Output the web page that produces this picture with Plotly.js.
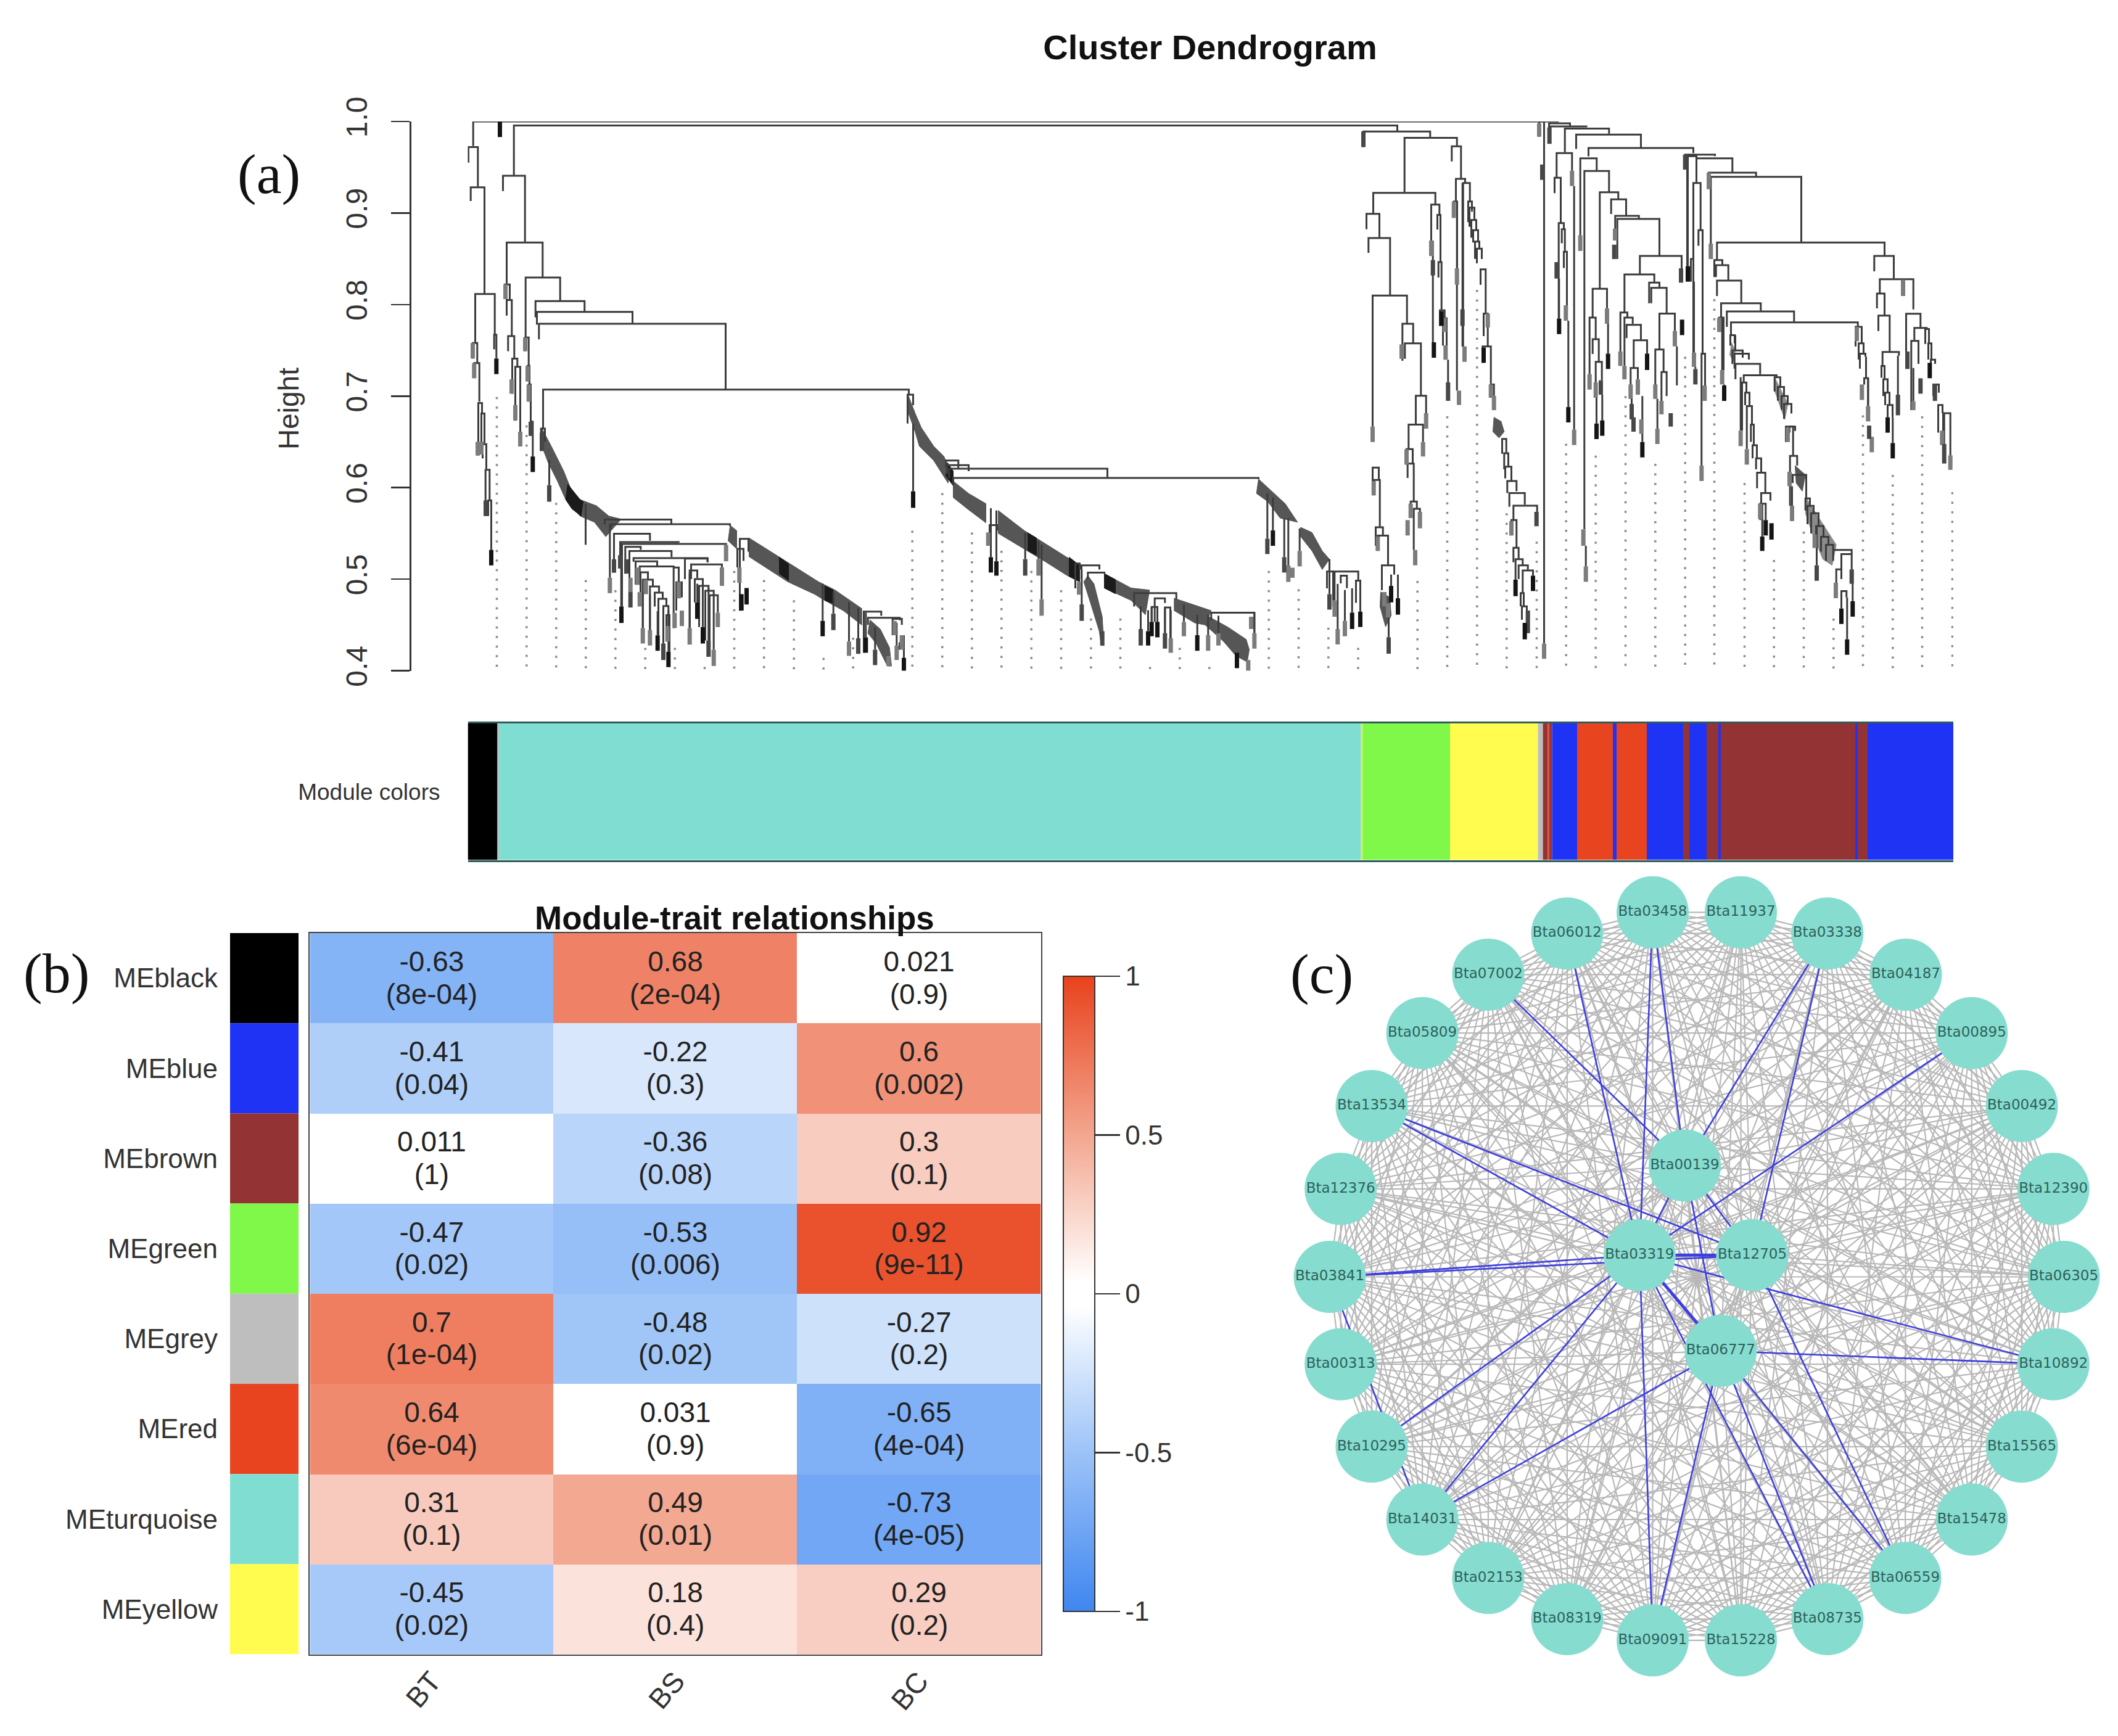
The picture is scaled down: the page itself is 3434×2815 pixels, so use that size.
<!DOCTYPE html>
<html>
<head>
<meta charset="utf-8">
<script src="https://cdn.plot.ly/plotly-3.0.1.min.js"></script>
<style>html,body{margin:0;padding:0;background:#fff}#chart{width:3434px;height:2815px}</style>
</head>
<body>
<div id="chart"></div>
<script>
// ---------- Panel (a): dendrogram, x = gene order, heights ----------
// merge rows: [left x, right x, merge height, left child height, right child height]
const treeBlack = [
 [8.7,1769,1.0,.9733,1.0],[1,16.3,.972,.955,.929],[4.7,27,.928,.913,.811],[12,43.7,.8115,.758,.767],
 [42.7,46.3,.767,.751,.741],[8,15.3,.758,.741,.736],[10.3,18.7,.736,.7195,.694],[17,23,.6925,.635,.681],
 [22,27,.681,.64,.6486],[24,30,.6475,.632,.6206],[28.7,35.3,.6194,.569,.587],[33,38,.586,.569,.532]
];
const treeTurquoise = [
 [74.7,1507,.9957,.9407,.9894],[57,92.7,.9407,.924,.8677],[63,121.3,.8677,.823,.8295],[93.7,149.7,.8295,.764,.804],
 [109.7,189.3,.8037,.786,.7925],[112,267,.792,.778,.779],[115.3,418,.779,.762,.7071],[122,715,.7071,.6644,.7015],
 [60.3,68,.822,.806,.805],[63,71.3,.805,.788,.7655],[65.3,75.3,.7655,.749,.741],[72,80.3,.741,.7026,.732],
 [77,85,.732,.673,.645],[93,98.7,.764,.749,.733],[97,100,.733,.716,.7127],[98.7,102,.7127,.694,.672],
 [102,105.3,.672,.6565,.634],[118.7,125,.6644,.64,.65],
 [222,330,.565,.56,.56],[232,425,.56,.555,.558],[237,295.3,.5495,.5217,.542],[247,342,.5405,.512,.54],
 [250,418.7,.5385,.47,.5375],[255.3,280.3,.5352,.506,.532],[262,330.3,.5307,.469,.524],[268.7,388.7,.523,.519,.5184],
 [272,307,.5195,.494,.514],[278.7,333.7,.5138,.508,.5127],[333.7,342,.5127,.4465,.4965],[338,347,.4965,.4656,.48],
 [280,292,.5075,.4858,.4993],[283.7,300,.4993,.4465,.4915],[295.3,310,.492,.4443,.485],[303,316,.4852,.47,.4785],
 [309,322,.4785,.4386,.4705],[317,325.3,.4705,.4297,.4606],[322,327,.4606,.4319,.4207],
 [352,388.7,.5225,.5,.5184],[362,412,.5161,.5,.5128],[359.7,372,.5095,.4465,.501],[368,381,.5,.4746,.4925],
 [375,390.3,.4926,.4476,.4872],[385,398.7,.4872,.433,.4824],[392,405.3,.4824,.4229,.4633],
 [441,455,.5441,.4656,.5300],[437,447,.5330,.5128,.5200],
 [642,670.3,.4645,.4196,.46],[648.7,700.3,.4577,.45,.455],[688.7,703.7,.4566,.4387,.45],[700,707,.43,.4229,.414],
 [713,722,.7015,.67,.69],[775.3,795.3,.6296,.622,.62],[777,812,.6246,.615,.618],[780.3,1037,.6206,.61,.6105],
 [787,1282,.6105,.6027,.6094],[846,858,.5590,.5364,.5530],[985,992,.5170,.49,.5105],[995,1024,.515,.50,.5105],
 [1005.3,1032,.5072,.5,.506],[1080.3,1148.7,.4847,.47,.478],[1113.7,1130.3,.479,.4533,.474],[1108.7,1118,.4695,.4533,.4533],
 [1130.3,1139,.469,.4409,.4353],[1205.3,1275.3,.4634,.455,.4409],[1393,1403,.5083,.49,.5],[1403,1443.7,.5083,.47,.4984],
 [1415.3,1425.3,.5038,.4954,.4902],[1440,1447,.4984,.4741,.4645]
];
const treeGreen = [
 [1452,1560.3,.989,.972,.9822],[1518.7,1603.7,.9822,.9227,.9728],[1468,1568.7,.922,.8991,.9092],[1457,1478,.8991,.8823,.8733],
 [1460.3,1495.3,.8726,.8565,.8098],[1467,1522.7,.8098,.6667,.779],[1467,1477,.6218,.605,.6083],[1468.7,1478.7,.6083,.5915,.5566],
 [1472,1483.7,.5566,.5365,.5476],[1475.3,1492,.5476,.5308,.5151],[1482,1502,.5151,.488,.505],
 [1515.3,1532.7,.779,.7386,.7581],[1519.3,1545.3,.7576,.7408,.7004],[1537,1553.7,.7004,.6689,.6813],
 [1525.3,1548.7,.6689,.642,.6498],[1522,1532,.642,.6251,.6263],[1523.7,1533.7,.6263,.6105,.5847],
 [1528.7,1538.7,.5847,.5667,.5768],[1533.7,1543.7,.5768,.5319,.5735],
 [1562,1575.3,.9092,.8699,.898],[1572,1577,.898,.882,.8463],[1573.7,1578.7,.8463,.8295,.7936],[1576,1583.7,.7936,.7767,.785],
 [1581,1587,.785,.755,.7554]
];
const treeYellow = [
 [1595.3,1610.3,.9728,.9564,.9373],[1602,1617,.9373,.9126,.9328],[1598.7,1604,.9126,.8947,.84],[1613.7,1624.7,.9328,.754,.9126],
 [1622,1628,.9126,.89,.9014],[1624,1632,.9059,.885,.8924],[1627,1635,.8924,.873,.8812],[1630,1638,.8812,.8677,.8688],
 [1633,1640,.8688,.85,.861],[1636,1644,.861,.845,.8497],[1642,1650.3,.8385,.8217,.7902],[1647,1653.7,.7902,.7655,.7655],
 [1645.3,1658.7,.7543,.7363,.7138],[1658.7,1663.7,.7127,.6982,.7003],[1677,1683.7,.6532,.637,.6375],[1680.3,1687,.6375,.62,.6229],
 [1682,1692,.6229,.61,.6072],[1685.3,1700.3,.6072,.5941,.596],[1688.7,1713.7,.5941,.579,.5813],[1695.3,1733.7,.5802,.5645,.5735],
 [1692,1700.3,.5645,.5477,.5342],[1695.3,1703.7,.5342,.5185,.5218],[1698.7,1710.3,.5218,.4994,.515],[1703.7,1718.7,.515,.5,.5095],
 [1710.3,1727,.5095,.4848,.5038],[1707,1712,.4848,.4702,.47],[1709,1717,.4702,.4556,.4657]
];
const treeRight = [
 [1737,1745,1.0,.9834,.4297],[1753,1787,.998,.98,.995],[1755,1815,.9946,.985,.9946],
 [1778.7,1850.3,.9923,.9665,.9867],[1797,1902,.9856,.97,.9715],[1817,1987,.971,.962,.9654],[1803.7,1830.3,.9598,.8587,.9463],
 [1810.3,1850.3,.946,.5544,.9227],[1835.3,1865.3,.9227,.8172,.9149],[1853.7,1878,.9149,.899,.8969],[1860.3,1898.7,.8969,.87,.8935],
 [1863.7,1932,.8935,.8497,.8531],[1900.3,1968,.8531,.8329,.8396],[1875.3,1923.7,.8329,.7913,.8239],[1915.3,1932,.8239,.8014,.8178],
 [1918.7,1943.7,.8183,.8014,.7902],[1932,1957,.7902,.7509,.7711],[1925.3,1938.7,.7509,.697,.7262],[1935.3,1943.7,.7262,.6903,.7],
 [1868.7,1880,.7913,.733,.786],[1875.3,1888.7,.7857,.7329,.779],[1878.7,1902,.7779,.7633,.761],[1890.3,1912,.761,.7307,.7464],
 [1885.3,1897,.7307,.697,.7183],[1823.7,1847,.8172,.7857,.7958],[1818.7,1828.7,.7857,.724,.7613],[1823.7,1833.7,.7621,.746,.7374],
 [1828.7,1838.7,.7374,.715,.7172],[1765.3,1790.3,.9654,.9385,.9463],[1762,1772,.9385,.9216,.889],[1768.7,1777,.889,.7846,.8823],
 [1773.7,1778.7,.8823,.867,.8576],[1777,1782,.8576,.84,.7992],
 [1973.7,2022,.9638,.9474,.9621],[1977,1992,.9621,.8419,.9598],[1992,2050.3,.9598,.9328,.9441],[1987,1998.7,.9328,.7475,.8812],
 [1983,1988,.8497,.825,.8497],[1995.3,2002,.8812,.8643,.7464],[2000.3,2006,.7464,.624,.7116],[2012,2088.7,.9441,.9261,.9396],
 [2015.3,2162,.9396,.8666,.8677],[2025.3,2297,.8677,.8486,.8531],[2021,2034,.8486,.83,.843],[2023.7,2043.7,.843,.83,.8261],
 [2025.3,2064.7,.8261,.8093,.8014],[2032,2096.3,.8014,.7857,.7925],[2029,2036,.7857,.77,.7284],[2041.3,2150.3,.7925,.7756,.7812],
 [2048,2253.7,.7805,.7666,.7756],[2047,2054,.7666,.755,.7576],[2050.3,2067,.7498,.735,.742],[2053.7,2077,.7464,.73,.74],
 [2055.3,2095.3,.7352,.7183,.7239],[2068.7,2122,.7228,.7149,.7206],[2066,2073,.7149,.6622,.7037],[2071,2078,.7037,.69,.689],
 [2073.7,2082,.689,.642,.6689],[2080.3,2085,.6689,.65,.6463],[2083,2090,.6463,.632,.6319],[2088.7,2097,.6319,.62,.6162],
 [2090.3,2103.7,.6162,.5993,.5948],[2097,2112,.5941,.5825,.5858],[2095.3,2104.3,.5825,.5645,.5645],
 [2137,2148.7,.6667,.6498,.6352],[2143.7,2155.3,.6346,.5802,.624],[2213.7,2243.7,.5319,.52,.5274],[2218.7,2227,.5106,.496,.5],
 [2227,2235.3,.487,.4679,.48],[2227,2243.7,.5274,.5106,.5106],
 [2250,2260,.7756,.7543,.7576],[2255,2263,.7576,.74,.7464],[2257,2266,.7464,.73,.743],[2264,2270.3,.7195,.7127,.6891],
 [2280.3,2312,.8531,.8363,.8284],[2289.3,2343.7,.8277,.812,.7947],[2284.7,2297,.812,.7958,.788],[2287,2305.3,.788,.7711,.7482],
 [2293.7,2320.3,.7482,.7329,.7442],[2292,2297,.7329,.72,.7183],[2295,2302,.7183,.7,.7037],[2298,2305,.7037,.69,.6903],
 [2302,2310,.6903,.6768,.6768],[2332,2355.3,.79,.7487,.7745],[2345.3,2365.3,.7745,.761,.7733],[2340.3,2352,.7603,.6847,.7352],
 [2363,2369,.7733,.757,.7576],[2368,2373,.7576,.74,.7397],[2372,2379,.7397,.72,.7352],[2376,2385,.7127,.7,.7037],
 [2384,2391,.6903,.66,.6813],[2392,2403.7,.6813,.66,.6352],
 [2143,2152,.6667,.66,.662],[2148,2170,.6139,.605,.5881],
 [2118.7,2128,.7206,.705,.7100],[2124,2134,.7100,.695,.7000],[2130,2140,.7000,.685,.6914],[2134,2146,.6914,.675,.6810],
 [2168.7,2176,.5881,.575,.58],[2172,2182,.58,.56,.572],[2178,2190,.572,.55,.558],[2186,2198,.558,.54,.5462],[2194,2206,.5462,.53,.5375],[2202,2213.7,.5375,.52,.5319]
];
// single vertical lines: [x, top, bottom]
const treeStems = [
 [132,.63,.6026],[191,.5824,.5375],[230.3,.56,.5015],[248.7,.5262,.4701],[283.7,.4858,.4465],[295.3,.483,.4443],[307.7,.465,.4386],
 [317,.463,.4297],[325.3,.466,.4207],[359.7,.5067,.4465],[381,.495,.4476],[398.7,.4837,.4229],[372,.495,.4746],[390.3,.49,.433],
 [575.3,.495,.4544],[592.7,.486,.4622],[618,.4746,.4319],[633,.468,.4353],[645.3,.4635,.4364],[660.3,.4475,.4229],[695.3,.4522,.4274],
 [707,.4387,.414],[722,.67,.5959],[848,.5775,.524],[857,.575,.5195],[903.7,.551,.5218],[925.3,.542,.5218],[930.3,.5375,.478],
 [995.3,.5105,.4724],[1182.7,.461,.4387],[1200.3,.461,.4387],[1161,.4723,.4533],[1217,.46,.4409],[1275.3,.4634,.4409],[1091,.47,.4454],
 [1103,.466,.4432],[1108.7,.4695,.4533],[1118,.469,.4533],[1130.3,.469,.4409],[1139.7,.466,.4353],[1296.3,.5937,.5442],[1305.3,.5892,.5532],
 [1323.7,.5667,.524],[1330.3,.5667,.515],[1348.7,.5554,.5308],[1397,.5218,.4836],[1405.3,.5083,.4768],[1410.3,.4948,.4454],[1422,.4881,.4544],
 [1433.7,.49,.4634],[1493,.4702,.4365],[1497,.505,.4926],[1508,.505,.4791],[1603.7,.8947,.7060],[1564.7,.8699,.7588],[1566.3,.7588,.7419],
 [1589.3,.7397,.715],[1612.7,.9328,.754],[1769.3,.8284,.7846],[1784.3,.7823,.688],[1793.7,.9295,.6633],[1812.7,.5364,.514],[1848.7,.779,.7464],
 [1960.3,.7543,.7116],[1928.7,.697,.6644],[1887,.7015,.6745],[1890,.6745,.6611],[1904.3,.7,.6498],[1830,.6981,.67],[1839.3,.7015,.6734],
 [1978,.9621,.8419],[1988,.825,.7475],[1990.3,.7318,.7295],[2033.7,.7857,.7284],[2037,.7127,.7116],[2063.7,.7206,.6622],[2267,.743,.7195],
 [2270.3,.7195,.6891],[2310.3,.6768,.6487],[2318.7,.7442,.7015],[2343.7,.7307,.6943],[2147,.6015,.5802],[2098.7,.5825,.5465],[2187,.5578,.5151],
 [2236.3,.48,.4342],[2245.3,.5106,.4758],[2403.7,.6352,.6195],[2393.7,.6813,.6476],[1653.7,.7655,.7543],[1658.7,.7138,.7127],[2055,.7667,.7498]
];
// leaf stubs [x, top, bottom] grouped by how dark they print
const stubsBlack = [
 [52,1.0,.983],[46.3,.741,.724],[38,.532,.515],[105.3,.634,.617],[249,.4701,.4521],[307.7,.4386,.4218],[325.3,.4207,.4038],[372,.4746,.4566],
 [381,.4476,.4297],[443.7,.4836,.4656],[452,.4903,.4723],[575.3,.4544,.4375],[645.3,.4364,.4196],[707,.414,.3971],[722,.5959,.5779],[848,.524,.5072],
 [857,.5195,.5038],[1103,.4432,.4274],[1108.7,.4533,.4375],[1118,.4533,.4364],[1182.7,.4387,.4218],[1247,.4196,.4027],[1305.3,.5532,.5364],[1433.7,.4634,.4454],
 [1447,.4645,.4477],[1497,.4926,.4746],[1508,.4791,.4612],[1566.3,.7588,.7419],[1578.7,.7925,.7767],[1647,.7531,.7363],[1698.7,.4994,.4814],[1713.7,.4522,.4342],
 [1727,.5038,.487],[1769.3,.7846,.7677],[1784.3,.688,.6712],[1830,.67,.653],[1839.3,.6734,.6566],[1848.7,.7464,.7296],[1904.3,.6498,.633],[1912,.7464,.7285],
 [1968.7,.7835,.7666],[1978,.8419,.825],[2037,.7116,.6947],[2104.3,.5645,.5477],[2098.7,.5465,.5308],[2113.7,.5611,.5432],[2227,.4679,.451],[2236.3,.4342,.4174],
 [2245.3,.4758,.459],[2302,.6768,.66],[2310.3,.6487,.6319],[2370.3,.7363,.7195]
];
const stubsDark = [
 [29,.586,.569],[102,.672,.6565],[120,.66,.64],[132,.6026,.5846],[237,.5217,.507],[247,.5262,.5116],[257,.5217,.506],[263.7,.486,.469],[317,.4297,.4117],
 [390.3,.433,.4151],[592.7,.4622,.4443],[633,.4353,.4184],[660.3,.4229,.406],[903.7,.5218,.5038],[995.3,.4724,.4544],[1091,.4454,.4274],[1130.3,.4409,.4241],
 [1296.3,.5442,.5274],[1323.7,.524,.5072],[1397,.4836,.4667],[1028.7,.4432,.4275],[1452,.989,.9721],[1493,.4365,.4185],[1564.7,.8486,.8318],[1589.3,.715,.6948],
 [1612.7,.7947,.7767],[1732.7,.5735,.5578],[1753.7,.9935,.9755],[1742,.953,.9362],[1718.7,.4657,.441],[1765.3,.8464,.8284],[1837,.7172,.7015],[1858.7,.8654,.8497],
 [1967,.8396,.8239],[1950.3,.6813,.6667],[1990.3,.7295,.7127],[1973.7,.9638,.9474],[1887,.6914,.6745],[1890,.6768,.6611],[2187,.5151,.4982],[2243.7,.5106,.4949],
 [2272,.6678,.6532],[2318.7,.7015,.679],[2334,.7487,.7296],[2355.3,.7194,.7026],[2378.7,.7127,.6947],[2393.7,.6476,.6263]
];
const stubsGray = [
 [8,.758,.741],[10.3,.736,.7195],[16,.65,.635],[22,.65,.636],[71,.7183,.7026],[77,.6903,.6734],[85,.661,.645],[93,.764,.749],[97,.733,.716],[98.7,.7127,.694],
 [61,.822,.806],[275,.5128,.4937],[263.7,.5015,.486],[230.3,.5015,.4847],[283.7,.4465,.4297],[295.3,.4443,.4274],[323.7,.4488,.4319],[278.7,.4858,.4701],[288.7,.4993,.4836],
 [335.3,.4633,.4465],[347,.4656,.4487],[342,.497,.479],[359.7,.4465,.4285],[398.7,.4229,.405],[405.3,.4633,.4476],[412,.5128,.4926],[418.7,.5375,.5195],[440.3,.5128,.4959],
 [618,.4319,.4162],[682,.416,.405],[692,.4544,.4387],[695.3,.4274,.4117],[703.7,.4387,.4229],[843.7,.551,.5364],[925.3,.5218,.5038],[930.3,.478,.46],[991,.4970,.4830],
 [1139.7,.4353,.4196],[1161,.4533,.4375],[1200.3,.4387,.4218],[1217,.4409,.4274],[1265.3,.4117,.3949],[1270,.4589,.4454],[1275.3,.4409,.4241],[1330.3,.515,.497],
 [1337,.5125,.5015],[1348.7,.5308,.5139],[1405.3,.4768,.4589],[1410.3,.4454,.4286],[1422,.4544,.4375],[1467,.6667,.6498],[1468.7,.6072,.5915],[1475.3,.5465,.5308],
 [1486,.4859,.4702],[1492,.4735,.458],[1514,.7565,.7408],[1553.7,.6813,.6644],[1548.7,.6498,.634],[1522,.642,.6251],[1528.7,.5825,.5667],[1523.7,.5645,.5477],[1543.7,.5735,.5555],[1536,.5319,.5151],
 [1562,.8699,.853],[1583.7,.7857,.77],[1585.3,.7554,.7397],[1598.7,.9126,.8947],[1603.7,.8396,.8217],[1607,.706,.6903],[1616,.7543,.7374],[1653.7,.7902,.7750],[1658.7,.7127,.6982],[1663.7,.7003,.6846],
 [1692,.5634,.5477],[1737,.998,.9834],[1745,.4297,.413],[1780.3,.7992,.7823],[1790.3,.9463,.9295],[1793.7,.6633,.6465],[1803.7,.8756,.8587],[1808.7,.5544,.5364],[1812.7,.514,.4971],
 [1847,.7958,.779],[1818.7,.724,.7071],[1828.7,.715,.6981],[1860,.8830,.8700],[1885.3,.7127,.697],[1897,.7183,.7015],[1868.7,.7486,.733],[1875.3,.7329,.7183],[1902.7,.6745,.6588],
 [1925.3,.7127,.697],[1928.7,.6644,.6476],[1935.3,.6948,.68],[1957,.7711,.7543],[1988,.7475,.7318],[2000.3,.624,.6072],[2005.3,.7116,.6947],[2012,.9441,.9261],[2015.3,.8666,.8497],
 [2033.7,.7284,.7127],[2029,.7857,.77],[2063.7,.6622,.6453],[2073.7,.642,.6251],[2095.3,.5825,.5656],[2143,.6173,.6015],[2147,.5802,.5634],[2140,.6656,.6498],[2183.7,.5488,.534],
 [2218,.496,.4792],[2252,.7756,.7599],[2260.3,.7127,.6958],[2270.3,.6891,.6723],[2276.3,.6555,.6386],[2327,.8273,.8093],[2343.7,.6943,.6846],[2390.3,.6622,.6465],[2403.7,.6352,.6195]
];
// dense staircases print as solid ribbons: outline points [x, height]
const ribbonsMid = [
 [[120.3,.6644],[135.3,.6453],[155.3,.6183],[168.7,.5959],[182,.5869],[208.7,.5801],[228.7,.5689],[248.7,.5655],[223.7,.5464],[205.3,.5622],[182,.5689],[158.7,.5869],[145.3,.6071],[130.3,.6273],[118.7,.6475]],
 [[425.3,.5588],[436,.5530],[436,.5330],[422,.5419]],
 [[456,.5450],[522,.5172],[568.7,.4971],[595.3,.4881],[638.7,.4679],[638.7,.4499],[608.7,.4656],[578.7,.4768],[562,.4836],[518.7,.4971],[456,.5245]],
 [[652,.4555],[668.7,.4454],[683.7,.4252],[687,.405],[680.3,.405],[673.7,.414],[662,.4297],[648.7,.4409]],
 [[713.7,.7014],[725.3,.6812],[735.3,.6655],[755.3,.6453],[772,.6341],[782,.6183],[778.7,.6049],[755.3,.6296],[732,.6453],[725.3,.661],[712,.6857]],
 [[787,.6071],[812,.5936],[840,.5825],[840,.5615],[812,.5757],[787,.5891]],
 [[860,.5750],[902,.5532],[955.3,.5307],[992,.515],[992,.4971],[972,.5038],[935.3,.5195],[902,.533],[860,.5500]],
 [[1005.3,.5038],[1015.3,.4948],[1028.7,.4589],[1031.3,.4275],[1027,.4275],[1023.7,.4432],[1010.3,.4724],[998.7,.4971]],
 [[1032,.506],[1075.3,.4903],[1105.3,.4881],[1098.7,.4611],[1075.3,.4768],[1032,.4903]],
 [[1145.3,.4791],[1205.3,.4656],[1195.3,.45],[1178.7,.4521],[1145.3,.4656]],
 [[1198.7,.46],[1232,.4477],[1262,.4342],[1267,.423],[1263.7,.4095],[1245.3,.4162],[1225.3,.4319],[1195.3,.45]],
 [[1282,.6094],[1325.3,.5824],[1345.3,.5622],[1317,.5667],[1297,.5847],[1278.7,.5936]],
 [[1350.3,.5566],[1368.7,.551],[1385.3,.5308],[1397,.5218],[1385.3,.5105],[1368.7,.5308],[1350.3,.5465]],
 [[1480,.4860],[1495,.4800],[1497,.4600],[1488,.4480],[1479,.4700]],
 [[1663.7,.6768],[1675.3,.6723],[1680.3,.6611],[1672,.6543],[1662,.6611]],
 [[2152,.624],[2168.7,.6139],[2163.7,.596],[2153.7,.605]]
];
const ribbonsLight = [
 [[2118.7,.7206],[2140.3,.6914],[2135.3,.6745],[2118.7,.706]],
 [[2170.3,.5881],[2185.3,.5723],[2198.7,.5578],[2218.7,.5375],[2212,.5151],[2197,.5218],[2180.3,.5488],[2168.7,.5723]],
 [[2049,.7580],[2055,.7500],[2052,.7380],[2046,.7450]]
];
const ribbonsDeep = [
 [[162,.6037],[182,.5869],[187,.5846],[183.7,.5689],[168.7,.5768],[158.7,.5869]],
 [[505,.524],[520,.5165],[520,.4985],[505,.506]],
 [[578.7,.4925],[592,.4885],[592,.4735],[578.7,.4768]],
 [[778,.627],[787,.618],[787,.602],[775,.613]],
 [[908,.5505],[922,.545],[922,.526],[908,.531]],
 [[975,.524],[992,.515],[992,.4971],[975,.503]],
 [[1032,.506],[1050,.4995],[1050,.484],[1032,.4903]]
];
// vertical dotted guide lines: x and height where the dots start
const guideX = [47,95.3,143.3,191.3,239.3,287.7,335.7,384,432,480.3,528.7,576.7,624.7,673,720.7,769.3,817.3,865.3,913.7,962,1010.3,1058,1106,1154.3,1202.3,1251,1298.7,1347,1395.3,1443.5,1491.8,1539.7,1588,1636.3,1684.3,1733,1780.7,1828.7,1877,1925.3,1973.7,2021,2070,2117.7,2166,2214.3,2262,2310.3,2358,2407];
const guideTop = [.699,.668,.5835,.499,.488,.425,.425,.404,.509,.499,.477,.414,.436,.394,.553,.594,.551,.531,.509,.488,.457,.457,.404,.425,.404,.383,.509,.489,.447,.425,.394,.498,.678,.816,.572,.541,.648,.635,.7,.626,.743,.806,.605,.521,.552,.457,.679,.614,.678,.595];
const guideBottom = .351;
const heightTicks = [0.4,0.5,0.6,0.7,0.8,0.9,1.0];
// module colour strip under the dendrogram: consecutive gene counts
const moduleStripColors = ['#000000','#B8A8A8','#7FDED1','#C8F050','#7FF84A','#FFFB4F','#BEBEBE','#943333','#E94420','#943333','#1F33F5','#E94420','#1F33F5','#E94420','#1F33F5','#943333','#1F33F5','#943333','#1F33F5','#943333','#1F33F5','#943333','#1F33F5'];
const moduleStripCounts = [47.5,2.5,1398,3,141.5,142.5,8,8,2,5,40.5,58,6,49,59,10,28,19,4,218,4,16,139.5];

// ---------- Panel (b): module-trait heatmap ----------
const moduleNames = ['MEblack','MEblue','MEbrown','MEgreen','MEgrey','MEred','MEturquoise','MEyellow'];
const moduleColors = ['#000000','#1F33F5','#943333','#7FF84A','#BEBEBE','#E94420','#7FDED1','#FFFB4F'];
const traits = ['BT','BS','BC'];
const corrBT = [-0.63,-0.41,0.011,-0.47,0.7,0.64,0.31,-0.45];
const corrBS = [0.68,-0.22,-0.36,-0.53,-0.48,0.031,0.49,0.18];
const corrBC = [0.021,0.6,0.3,0.92,-0.27,-0.65,-0.73,0.29];
const pBT = ['8e-04','0.04','1','0.02','1e-04','6e-04','0.1','0.02'];
const pBS = ['2e-04','0.3','0.08','0.006','0.02','0.9','0.01','0.4'];
const pBC = ['0.9','0.002','0.1','9e-11','0.2','4e-04','4e-05','0.2'];
const scaleTicks = [1,0.5,0,-0.5,-1];

// ---------- Panel (c): co-expression network, layout coordinates ----------
const geneNames = ['Bta03458','Bta11937','Bta03338','Bta04187','Bta00895','Bta00492','Bta12390','Bta06305','Bta10892','Bta15565','Bta15478','Bta06559','Bta08735','Bta15228','Bta09091','Bta08319','Bta02153','Bta14031','Bta10295','Bta00313','Bta03841','Bta12376','Bta13534','Bta05809','Bta07002','Bta06012','Bta00139','Bta03319','Bta12705','Bta06777'];
const geneX = [-.1206,.1206,.3573,.5716,.7517,.8887,.975,1.0033,.975,.8887,.7517,.5701,.3573,.1206,-.1206,-.3543,-.5701,-.7502,-.8887,-.9735,-1.0033,-.9735,-.8887,-.7502,-.5701,-.3543,-.0327,-.1563,.1518,.0655];
const geneY = [.9968,.9968,.939,.8264,.6666,.4672,.2405,0,-.2389,-.4642,-.6635,-.8233,-.9359,-.9938,-.9938,-.9359,-.8233,-.6635,-.4642,-.2389,0,.2405,.4672,.6666,.8264,.939,.3044,.0594,.0594,-.2024];
const hubEdges = [['Bta07002','Bta00139'],['Bta06012','Bta03319'],['Bta03458','Bta03319'],['Bta03458','Bta00139'],['Bta03338','Bta00139'],['Bta03338','Bta12705'],['Bta00895','Bta03319'],['Bta13534','Bta03319'],['Bta13534','Bta12705'],['Bta03841','Bta03319'],['Bta03841','Bta12705'],['Bta03841','Bta14031'],['Bta10295','Bta03319'],['Bta14031','Bta03319'],['Bta14031','Bta06777'],['Bta09091','Bta03319'],['Bta09091','Bta06777'],['Bta08735','Bta06777'],['Bta08735','Bta03319'],['Bta06559','Bta06777'],['Bta06559','Bta12705'],['Bta10892','Bta06777'],['Bta10892','Bta03319'],['Bta00139','Bta03319'],['Bta00139','Bta06777'],['Bta00139','Bta12705'],['Bta03319','Bta12705'],['Bta03319','Bta06777']];
const thickHubEdges = [['Bta03319','Bta12705'],['Bta03319','Bta06777']];

// ---------- Page geometry ----------
const W = 3434, H = 2815;
const fx = p => p / W, fy = p => 1 - p / H;
const dom = (a, b) => [fx(a), fx(b)];
const domY = (top, bottom) => [fy(bottom), fy(top)];
const sans = 'Liberation Sans, Arial, sans-serif', ink = '#333333';

const traces = [];
// guides
(function () {
  const xs = [], ys = [];
  guideX.forEach((g, i) => { xs.push(g, g, null); ys.push(guideTop[i], guideBottom, null); });
  traces.push({ type: 'scatter', mode: 'lines', x: xs, y: ys, xaxis: 'x', yaxis: 'y', cliponaxis: false,
    line: { color: '#8c8c8c', width: 3.5, dash: '3.5px,12px' }, hoverinfo: 'skip', showlegend: false });
})();
// ribbons
[[ribbonsMid, '#565656'], [ribbonsLight, '#8a8a8a'], [ribbonsDeep, '#1a1a1a']].forEach(([set, col]) => set.forEach(poly => {
  traces.push({ type: 'scatter', mode: 'lines', x: poly.map(p => p[0]).concat(poly[0][0]), y: poly.map(p => p[1]).concat(poly[0][1]),
    xaxis: 'x', yaxis: 'y', cliponaxis: false, fill: 'toself', fillcolor: col, line: { color: col, width: 1 }, hoverinfo: 'skip', showlegend: false });
}));
// merges and stems
(function () {
  const xs = [], ys = [];
  [].concat(treeBlack, treeTurquoise, treeGreen, treeYellow, treeRight).forEach(m => {
    xs.push(m[0], m[0], m[1], m[1], null); ys.push(m[3], m[2], m[2], m[4], null);
  });
  treeStems.forEach(s => { xs.push(s[0], s[0], null); ys.push(s[1], s[2], null); });
  traces.push({ type: 'scatter', mode: 'lines', x: xs, y: ys, xaxis: 'x', yaxis: 'y', cliponaxis: false,
    line: { color: '#3c3c3c', width: 3 }, hoverinfo: 'skip', showlegend: false });
})();
// stubs
[[stubsGray, '#7c7c7c'], [stubsDark, '#474747'], [stubsBlack, '#141414']].forEach(([set, col]) => {
  const xs = [], ys = [];
  set.forEach(s => { xs.push(s[0], s[0], null); ys.push(s[1], s[2], null); });
  traces.push({ type: 'scatter', mode: 'lines', x: xs, y: ys, xaxis: 'x', yaxis: 'y', cliponaxis: false,
    line: { color: col, width: 7 }, hoverinfo: 'skip', showlegend: false });
});
// module strip
(function () {
  let run = 0; const bases = moduleStripCounts.map(c => { const b = run; run += c; return b; });
  traces.push({ type: 'bar', orientation: 'h', x: moduleStripCounts, base: bases, y: moduleStripCounts.map(() => 0), width: 1,
    xaxis: 'x5', yaxis: 'y5', marker: { color: moduleStripColors, line: { width: 0 } }, hoverinfo: 'skip', showlegend: false });
})();
// heatmap
const rows = moduleNames.map((_, i) => i);
traces.push({ type: 'heatmap', x: [0, 1, 2], y: rows, z: rows.map(i => [corrBT[i], corrBS[i], corrBC[i]]), xaxis: 'x2', yaxis: 'y2', zmin: -1, zmax: 1,
  colorscale: [[0, '#3f86f0'], [0.25, '#9cc3f8'], [0.482, '#ffffff'], [0.518, '#ffffff'], [0.75, '#f3a68f'], [1, '#e8421c']],
  hoverinfo: 'skip',
  colorbar: { x: fx(1723.6), xanchor: 'left', xpad: 0, ypad: 0, y: fy(2098), yanchor: 'middle', len: 1030 / H, lenmode: 'fraction', thickness: 51, thicknessmode: 'pixels',
    outlinewidth: 2, outlinecolor: '#333', tickmode: 'array', tickvals: scaleTicks, ticktext: scaleTicks.map(String), ticks: 'outside', ticklen: 40, tickwidth: 2.5, tickcolor: '#333',
    tickfont: { family: sans, size: 44, color: ink } } });
// heatmap texts
[[corrBT, corrBS, corrBC, -0.155, v => String(v)], [pBT, pBS, pBC, 0.205, v => '(' + v + ')']].forEach(([a, b, c, off, fmt]) => {
  const xs = [], ys = [], ts = [];
  [a, b, c].forEach((col, j) => col.forEach((v, i) => { xs.push(j); ys.push(i + off); ts.push(fmt(v)); }));
  traces.push({ type: 'scatter', mode: 'text', x: xs, y: ys, text: ts, textposition: 'middle center', xaxis: 'x2', yaxis: 'y2',
    textfont: { family: sans, size: 46, color: '#222' }, hoverinfo: 'skip', showlegend: false });
});
// colour strip beside heatmap
traces.push({ type: 'bar', orientation: 'h', x: rows.map(() => 1), y: rows, width: 1, xaxis: 'x3', yaxis: 'y3',
  marker: { color: moduleColors, line: { width: 0 } }, hoverinfo: 'skip', showlegend: false });
// network
const idx = name => geneNames.indexOf(name);
(function () {
  const xs = [], ys = [];
  for (let i = 0; i < geneNames.length; i++) for (let j = i + 1; j < geneNames.length; j++) { xs.push(geneX[i], geneX[j], null); ys.push(geneY[i], geneY[j], null); }
  traces.push({ type: 'scatter', mode: 'lines', x: xs, y: ys, xaxis: 'x4', yaxis: 'y4', line: { color: '#b8b8b8', width: 2.2 }, hoverinfo: 'skip', showlegend: false });
  [[hubEdges, 2.6], [thickHubEdges, 5]].forEach(([edges, wd]) => {
    const bx = [], by = [];
    edges.forEach(e => { const a = idx(e[0]), b = idx(e[1]); bx.push(geneX[a], geneX[b], null); by.push(geneY[a], geneY[b], null); });
    traces.push({ type: 'scatter', mode: 'lines', x: bx, y: by, xaxis: 'x4', yaxis: 'y4', line: { color: '#3f3fe0', width: wd }, hoverinfo: 'skip', showlegend: false });
  });
  traces.push({ type: 'scatter', mode: 'markers+text', x: geneX, y: geneY, text: geneNames, textposition: 'middle center', xaxis: 'x4', yaxis: 'y4',
    marker: { size: 117, color: '#86DDCF', line: { width: 0 } }, textfont: { family: 'DejaVu Sans, sans-serif', size: 23, color: '#2f615c' }, hoverinfo: 'skip', showlegend: false });
})();

const hidden = { visible: false, fixedrange: true };
const layout = {
  width: W, height: H, margin: { l: 0, r: 0, t: 0, b: 0 }, paper_bgcolor: '#ffffff', plot_bgcolor: 'rgba(0,0,0,0)', showlegend: false,
  title: { text: 'Cluster Dendrogram', x: fx(1962), xanchor: 'center', xref: 'paper', y: fy(76), yanchor: 'middle', yref: 'paper', font: { family: sans, size: 56, color: '#111', weight: 700 } },
  xaxis: Object.assign({ domain: dom(758.5, 3167), range: [0, 2408.5] }, hidden),
  yaxis: { domain: domY(197, 1087.5), range: [0.4, 1.0], anchor: 'free', position: fx(665), showline: true, linecolor: '#333', linewidth: 2.5, ticks: 'outside', ticklen: 30, tickwidth: 2.5, tickcolor: '#333',
    tickmode: 'array', tickvals: heightTicks, ticktext: heightTicks.map(v => v.toFixed(1)), tickangle: -90, ticklabelstandoff: 20, tickfont: { family: sans, size: 48, color: ink }, showgrid: false, zeroline: false },
  xaxis5: { domain: dom(758.5, 3167), range: [0, 2408.5], anchor: 'y5', showline: true, mirror: true, linecolor: '#2f5c58', linewidth: 3, ticks: '', showticklabels: false, showgrid: false, zeroline: false },
  yaxis5: { domain: domY(1172.6, 1394.5), range: [-0.5, 0.5], anchor: 'x5', showline: false, tickmode: 'array', tickvals: [0], ticktext: ['Module colors'], ticks: '', ticklabelstandoff: 44, tickfont: { family: sans, size: 37, color: ink }, showgrid: false, zeroline: false },
  xaxis2: { domain: dom(502.4, 1687.6), range: [-0.5, 2.5], anchor: 'y2', showline: true, mirror: true, linecolor: '#444', linewidth: 2, tickmode: 'array', tickvals: [0, 1, 2], ticktext: traits, tickangle: -50, ticks: '', ticklabelstandoff: -4, tickfont: { family: sans, size: 46, color: ink }, showgrid: false, zeroline: false },
  yaxis2: { domain: domY(1513, 2682.5), range: [7.5, -0.5], anchor: 'x2', showline: true, mirror: true, linecolor: '#444', linewidth: 2, showticklabels: false, ticks: '', showgrid: false, zeroline: false },
  xaxis3: Object.assign({ domain: dom(373, 484), range: [0, 1], anchor: 'y3' }, hidden),
  yaxis3: { domain: domY(1513, 2682.5), range: [7.5, -0.5], anchor: 'x3', tickmode: 'array', tickvals: rows, ticktext: moduleNames, ticks: '', ticklabelstandoff: 19, tickfont: { family: sans, size: 44, color: ink }, showgrid: false, zeroline: false, showline: false },
  xaxis4: Object.assign({ domain: dom(2069, 3433), range: [-1.15, 1.15], anchor: 'y4' }, hidden),
  yaxis4: Object.assign({ domain: domY(1388.5, 2752.5), range: [-1.15, 1.15], anchor: 'x4' }, hidden),
  annotations: [
    { text: 'Height', xref: 'paper', yref: 'paper', x: fx(468), y: fy(663), xanchor: 'center', yanchor: 'middle', textangle: -90, showarrow: false, font: { family: sans, size: 46, color: ink } },
    { text: 'Module-trait relationships', xref: 'paper', yref: 'paper', x: fx(1191), y: fy(1489), xanchor: 'center', yanchor: 'middle', showarrow: false, font: { family: sans, size: 53, color: '#111', weight: 700 } },
    { text: '(a)', xref: 'paper', yref: 'paper', x: fx(436), y: fy(282), xanchor: 'center', yanchor: 'middle', showarrow: false, font: { family: 'Liberation Serif, serif', size: 92, color: '#111' } },
    { text: '(b)', xref: 'paper', yref: 'paper', x: fx(91), y: fy(1578), xanchor: 'center', yanchor: 'middle', showarrow: false, font: { family: 'Liberation Serif, serif', size: 92, color: '#111' } },
    { text: '(c)', xref: 'paper', yref: 'paper', x: fx(2143), y: fy(1579), xanchor: 'center', yanchor: 'middle', showarrow: false, font: { family: 'Liberation Serif, serif', size: 92, color: '#111' } }
  ]
};
Plotly.newPlot('chart', traces, layout, { staticPlot: true, displayModeBar: false });
</script>
</body>
</html>
